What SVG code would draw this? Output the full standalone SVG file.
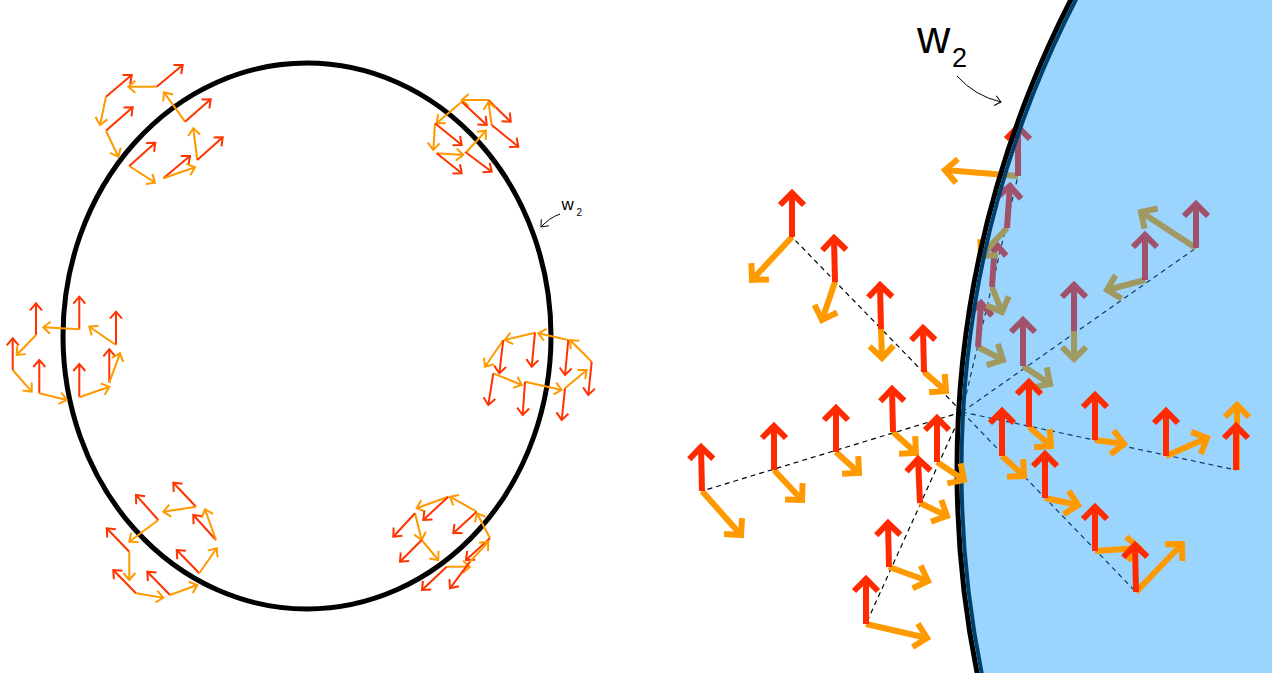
<svg xmlns="http://www.w3.org/2000/svg" width="1281" height="673" viewBox="0 0 1281 673">
<style>
.tr{stroke:#ff3300;stroke-width:2;fill:none;marker-end:url(#mtr)}
.to{stroke:#ff9900;stroke-width:2;fill:none;marker-end:url(#mto)}
.Tr{stroke:#ff2a00;stroke-width:6;fill:none;marker-end:url(#mTr)}
.To{stroke:#ff9900;stroke-width:6;fill:none;marker-end:url(#mTo)}
.Tm{stroke:#a0526c;stroke-width:6;fill:none;marker-end:url(#mTm)}
.Tk{stroke:#a09a62;stroke-width:6;fill:none;marker-end:url(#mTk)}
.dk{stroke:#000;stroke-width:1.2;stroke-dasharray:5 4;fill:none}
.db{stroke:#0d3d66;stroke-width:1.2;stroke-dasharray:5 4;fill:none}
.lbl{font-family:"Liberation Sans",Arial,sans-serif;fill:#000}
</style>
<defs>
<marker id="mtr" markerUnits="userSpaceOnUse" orient="auto" markerWidth="20" markerHeight="20" overflow="visible"><path d="M-7,-6 L0,0 L-7,6" fill="none" stroke="#ff3300" stroke-width="2"/></marker>
<marker id="mto" markerUnits="userSpaceOnUse" orient="auto" markerWidth="20" markerHeight="20" overflow="visible"><path d="M-7,-6 L0,0 L-7,6" fill="none" stroke="#ff9900" stroke-width="2"/></marker>
<marker id="mTr" markerUnits="userSpaceOnUse" orient="auto" markerWidth="40" markerHeight="40" overflow="visible"><path d="M-12,-12 L0,0 L-12,12" fill="none" stroke="#ff2a00" stroke-width="6"/></marker>
<marker id="mTo" markerUnits="userSpaceOnUse" orient="auto" markerWidth="40" markerHeight="40" overflow="visible"><path d="M-12,-12 L0,0 L-12,12" fill="none" stroke="#ff9900" stroke-width="6"/></marker>
<marker id="mTm" markerUnits="userSpaceOnUse" orient="auto" markerWidth="40" markerHeight="40" overflow="visible"><path d="M-12,-12 L0,0 L-12,12" fill="none" stroke="#a0526c" stroke-width="6"/></marker>
<marker id="mTk" markerUnits="userSpaceOnUse" orient="auto" markerWidth="40" markerHeight="40" overflow="visible"><path d="M-12,-12 L0,0 L-12,12" fill="none" stroke="#a09a62" stroke-width="6"/></marker>
<marker id="mthin" markerUnits="userSpaceOnUse" orient="auto" markerWidth="20" markerHeight="20" overflow="visible"><path d="M-6,-5 L0,0 L-6,5" fill="none" stroke="#000" stroke-width="1"/></marker>
<clipPath id="cIn"><circle cx="1984" cy="470" r="1024"/></clipPath>
<clipPath id="cOut"><path clip-rule="evenodd" d="M0,0 H1281 V673 H0 Z M960,470 a1024,1024 0 1,0 2048,0 a1024,1024 0 1,0 -2048,0 Z"/></clipPath>
<clipPath id="cRect"><rect x="0" y="0" width="1272" height="673"/></clipPath>
</defs>
<rect width="1281" height="673" fill="#fff"/>

<!-- LEFT PANEL -->
<g id="ellipse-w2"><ellipse cx="307" cy="336" rx="244" ry="273" fill="none" stroke="#000" stroke-width="5"/></g>

<g id="cluster-top-left">
<line class="tr" x1="106" y1="96.7" x2="131.7" y2="75"/>
<line class="to" x1="156.7" y1="86.7" x2="128.3" y2="86.7"/>
<line class="tr" x1="156.7" y1="86.7" x2="182.7" y2="65"/>
<line class="to" x1="106" y1="96.7" x2="100" y2="125"/>
<line class="tr" x1="106" y1="130.7" x2="132.7" y2="107.3"/>
<line class="to" x1="106" y1="130.7" x2="118.3" y2="156.7"/>
<line class="to" x1="185" y1="121.7" x2="164" y2="92.3"/>
<line class="tr" x1="185" y1="121.7" x2="210.7" y2="99.3"/>
<line class="to" x1="197.3" y1="160" x2="193.3" y2="128.3"/>
<line class="tr" x1="197.3" y1="160" x2="222.7" y2="137.3"/>
<line class="to" x1="129.3" y1="166" x2="155" y2="182.7"/>
<line class="tr" x1="129.3" y1="166" x2="155.3" y2="142.7"/>
<line class="tr" x1="163.3" y1="178.3" x2="190" y2="156"/>
<line class="to" x1="163.3" y1="178.3" x2="195" y2="167.3"/>
</g>

<g id="cluster-top-right">
<line class="to" x1="488.3" y1="100" x2="461.7" y2="100"/>
<line class="tr" x1="488.3" y1="100" x2="510.7" y2="121.7"/>
<line class="tr" x1="461.7" y1="101.7" x2="486.7" y2="125"/>
<line class="to" x1="461.7" y1="101.7" x2="436.7" y2="123.3"/>
<line class="to" x1="491.7" y1="125" x2="488.5" y2="102"/>
<line class="tr" x1="491.7" y1="125" x2="518.3" y2="146.7"/>
<line class="to" x1="435" y1="123.3" x2="433.3" y2="150"/>
<line class="tr" x1="435" y1="123.3" x2="461.7" y2="145"/>
<line class="to" x1="466.7" y1="151.7" x2="486" y2="130.7"/>
<line class="to" x1="436.7" y1="153.3" x2="463.3" y2="155"/>
<line class="tr" x1="436.7" y1="153.3" x2="461.7" y2="173.3"/>
<line class="tr" x1="465" y1="151.7" x2="491.7" y2="171.7"/>
</g>

<g id="cluster-left">
<line class="tr" x1="36" y1="335" x2="36" y2="303.3"/>
<line class="to" x1="36" y1="335" x2="16.7" y2="355"/>
<line class="tr" x1="12.7" y1="370" x2="12.7" y2="338.3"/>
<line class="to" x1="12.7" y1="370" x2="31.7" y2="391.7"/>
<line class="tr" x1="39.3" y1="393.3" x2="39.3" y2="360"/>
<line class="to" x1="39.3" y1="393.3" x2="66.7" y2="400"/>
<line class="tr" x1="79.3" y1="329.3" x2="79.3" y2="296.7"/>
<line class="to" x1="79.3" y1="329.3" x2="43.3" y2="327.3"/>
<line class="tr" x1="116" y1="345" x2="116" y2="311.7"/>
<line class="to" x1="116" y1="345" x2="89.3" y2="326.7"/>
<line class="tr" x1="109.3" y1="382.7" x2="109.3" y2="349.3"/>
<line class="to" x1="109.3" y1="382.7" x2="120" y2="353.3"/>
<line class="tr" x1="79.3" y1="397.3" x2="79.3" y2="364"/>
<line class="to" x1="79.3" y1="397.3" x2="109.3" y2="386.7"/>
</g>

<g id="cluster-right">
<line class="to" x1="535" y1="332.7" x2="505" y2="340"/>
<line class="tr" x1="535" y1="332.7" x2="531.7" y2="366.7"/>
<line class="to" x1="503.3" y1="340" x2="485" y2="366.7"/>
<line class="tr" x1="503.3" y1="340" x2="499.3" y2="373.3"/>
<line class="to" x1="568.3" y1="340" x2="538.3" y2="333.3"/>
<line class="tr" x1="568.3" y1="340" x2="565" y2="375"/>
<line class="to" x1="591.7" y1="361.7" x2="570" y2="340"/>
<line class="tr" x1="591.7" y1="361.7" x2="588.3" y2="395"/>
<line class="to" x1="493.3" y1="373.3" x2="521.7" y2="385"/>
<line class="tr" x1="493.3" y1="373.3" x2="488.3" y2="405"/>
<line class="to" x1="525" y1="381.7" x2="561.7" y2="390"/>
<line class="tr" x1="525" y1="381.7" x2="522.7" y2="415"/>
<line class="to" x1="565" y1="388.3" x2="586.7" y2="370"/>
<line class="tr" x1="565" y1="388.3" x2="561.7" y2="420"/>
</g>

<g id="cluster-bottom-left">
<line class="tr" x1="196" y1="506.7" x2="173.3" y2="482.7"/>
<line class="to" x1="196" y1="506.7" x2="163.3" y2="511.7"/>
<line class="tr" x1="158.3" y1="520" x2="136" y2="495"/>
<line class="to" x1="158.3" y1="520" x2="129.3" y2="541.7"/>
<line class="tr" x1="216" y1="540" x2="193.3" y2="515"/>
<line class="to" x1="216" y1="540" x2="205" y2="509.3"/>
<line class="tr" x1="129.3" y1="551.7" x2="106.7" y2="528.3"/>
<line class="to" x1="129.3" y1="551.7" x2="129.3" y2="580"/>
<line class="tr" x1="199.3" y1="573.3" x2="176.7" y2="550"/>
<line class="to" x1="199.3" y1="573.3" x2="216.7" y2="548.3"/>
<line class="tr" x1="136" y1="593.3" x2="113.3" y2="570"/>
<line class="to" x1="136" y1="593.3" x2="163.3" y2="597.7"/>
<line class="tr" x1="170" y1="595" x2="147.3" y2="571.7"/>
<line class="to" x1="170" y1="595" x2="197.3" y2="585"/>
</g>

<g id="cluster-bottom-right">
<line class="to" x1="448.3" y1="496.7" x2="416.7" y2="508.3"/>
<line class="tr" x1="448.3" y1="496.7" x2="423.3" y2="520"/>
<line class="to" x1="476.7" y1="511.7" x2="450" y2="496.7"/>
<line class="tr" x1="476.7" y1="511.7" x2="453.3" y2="533.3"/>
<line class="to" x1="415" y1="513.3" x2="421.7" y2="540"/>
<line class="tr" x1="415" y1="513.3" x2="393.3" y2="536.7"/>
<line class="to" x1="490" y1="538.3" x2="477" y2="513.3"/>
<line class="tr" x1="490" y1="538.3" x2="466" y2="560"/>
<line class="to" x1="421.7" y1="540" x2="438.3" y2="560"/>
<line class="tr" x1="421.7" y1="540" x2="400" y2="561.7"/>
<line class="to" x1="446.7" y1="566.7" x2="470" y2="566.7"/>
<line class="tr" x1="446.7" y1="566.7" x2="422" y2="590"/>
<line class="to" x1="470" y1="561.7" x2="488.3" y2="541.7"/>
<line class="tr" x1="470" y1="561.7" x2="450" y2="588.3"/>
</g>

<g id="label-left">
<text class="lbl" x="561.5" y="210" font-size="17">w</text>
<text class="lbl" x="576.5" y="216" font-size="10">2</text>
<path d="M560,214 Q549,218 541,227" fill="none" stroke="#000" stroke-width="1" marker-end="url(#mthin)"/>
</g>

<!-- RIGHT PANEL -->
<g id="region-w2" clip-path="url(#cRect)">
<circle cx="1984" cy="470" r="1024" fill="#9bd4fd"/>
</g>

<g id="connectors">
<g clip-path="url(#cOut)">
<line class="dk" x1="962" y1="412" x2="792" y2="237"/>
<line class="dk" x1="962" y1="412" x2="702" y2="491"/>
<line class="dk" x1="962" y1="412" x2="866" y2="624"/>
</g>
<g clip-path="url(#cIn)">
<line class="db" x1="962" y1="412" x2="1236" y2="470"/>
<line class="db" x1="962" y1="412" x2="1136" y2="592"/>
<line class="db" x1="962" y1="412" x2="1196" y2="248"/>
<line class="db" x1="962" y1="412" x2="1018" y2="176"/>
</g>
</g>

<g id="frames-F">
<line class="Tk" x1="1023" y1="366" x2="1050" y2="384"/>
<line class="Tm" x1="1023" y1="366" x2="1023" y2="320"/>
<line class="Tk" x1="1074" y1="331" x2="1074" y2="359"/>
<line class="Tm" x1="1074" y1="331" x2="1074" y2="285"/>
<line class="Tk" x1="1145" y1="280" x2="1107" y2="290"/>
<line class="Tm" x1="1145" y1="280" x2="1145" y2="235"/>
<line class="Tk" x1="1196" y1="248" x2="1141" y2="212"/>
<line class="Tm" x1="1196" y1="248" x2="1196" y2="204"/>
</g>

<g id="frames-G">
<g clip-path="url(#cIn)">
<line class="Tk" x1="978" y1="347" x2="1003" y2="360"/>
<line class="Tm" x1="978" y1="347" x2="981" y2="303"/>
<line class="Tk" x1="992" y1="287" x2="1002" y2="312"/>
<line class="Tm" x1="992" y1="287" x2="995" y2="243"/>
<line class="Tk" x1="1007" y1="228" x2="981" y2="256"/>
<line class="Tm" x1="1007" y1="228" x2="1010" y2="186"/>
<line class="Tk" x1="1018" y1="176" x2="943" y2="170"/>
<line class="Tm" x1="1018" y1="176" x2="1018" y2="127"/>
</g>
<g clip-path="url(#cOut)">
<line class="To" x1="978" y1="347" x2="1003" y2="360"/>
<line class="Tr" x1="978" y1="347" x2="981" y2="303"/>
<line class="To" x1="992" y1="287" x2="1002" y2="312"/>
<line class="Tr" x1="992" y1="287" x2="995" y2="243"/>
<line class="To" x1="1007" y1="228" x2="981" y2="256"/>
<line class="Tr" x1="1007" y1="228" x2="1010" y2="186"/>
<line class="To" x1="1018" y1="176" x2="945" y2="170"/>
<line class="Tr" x1="1018" y1="176" x2="1018" y2="127"/>
</g>
</g>

<g id="boundary-w2">
<circle cx="1984" cy="470" r="1027" fill="none" stroke="#000" stroke-width="5"/>
<circle cx="1984" cy="470" r="1022.5" fill="none" stroke="#00416c" stroke-width="4"/>
</g>

<g id="frames-A">
<line class="To" x1="792" y1="237" x2="752" y2="280"/>
<line class="Tr" x1="792" y1="237" x2="792" y2="193"/>
<line class="To" x1="835" y1="282" x2="822" y2="320"/>
<line class="Tr" x1="835" y1="282" x2="834" y2="238"/>
<line class="To" x1="881" y1="329" x2="882" y2="358"/>
<line class="Tr" x1="881" y1="329" x2="880" y2="285"/>
<line class="To" x1="924" y1="372" x2="946" y2="391"/>
<line class="Tr" x1="924" y1="372" x2="923" y2="328"/>
</g>

<g id="frames-B">
<line class="To" x1="702" y1="491" x2="741" y2="535"/>
<line class="Tr" x1="702" y1="491" x2="701" y2="447"/>
<line class="To" x1="774" y1="470" x2="802" y2="500"/>
<line class="Tr" x1="774" y1="470" x2="774" y2="426"/>
<line class="To" x1="836" y1="452" x2="859" y2="473"/>
<line class="Tr" x1="836" y1="452" x2="836" y2="408"/>
<line class="To" x1="893" y1="432" x2="916" y2="453"/>
<line class="Tr" x1="893" y1="432" x2="892" y2="389"/>
</g>

<g id="frames-C">
<line class="To" x1="937" y1="462" x2="964" y2="480"/>
<line class="Tr" x1="937" y1="462" x2="937" y2="418"/>
<line class="To" x1="920" y1="503" x2="947" y2="516"/>
<line class="Tr" x1="920" y1="503" x2="918" y2="459"/>
<line class="To" x1="889" y1="567" x2="928" y2="581"/>
<line class="Tr" x1="889" y1="567" x2="888" y2="523"/>
<line class="To" x1="866" y1="624" x2="927" y2="638"/>
<line class="Tr" x1="866" y1="624" x2="866" y2="579"/>
</g>

<g id="frames-D">
<line class="To" x1="1029" y1="427" x2="1051" y2="446"/>
<line class="Tr" x1="1029" y1="427" x2="1029" y2="382"/>
<line class="To" x1="1095" y1="440" x2="1124" y2="444"/>
<line class="Tr" x1="1095" y1="440" x2="1095" y2="395"/>
<line class="To" x1="1166" y1="456" x2="1207" y2="438"/>
<line class="Tr" x1="1166" y1="456" x2="1166" y2="411"/>
<line class="To" x1="1237" y1="470" x2="1237" y2="405"/>
<line class="Tr" x1="1236" y1="470" x2="1236" y2="426"/>
</g>

<g id="frames-E">
<line class="To" x1="1002" y1="456" x2="1024" y2="476"/>
<line class="Tr" x1="1002" y1="456" x2="1002" y2="411"/>
<line class="To" x1="1045" y1="498" x2="1078" y2="505"/>
<line class="Tr" x1="1045" y1="498" x2="1045" y2="454"/>
<line class="To" x1="1095" y1="551" x2="1139" y2="548"/>
<line class="Tr" x1="1095" y1="551" x2="1095" y2="507"/>
<line class="To" x1="1136" y1="592" x2="1182" y2="544"/>
<line class="Tr" x1="1136" y1="592" x2="1135" y2="545"/>
</g>

<g id="label-right">
<text class="lbl" x="917" y="53" font-size="46">w</text>
<text class="lbl" x="952" y="67" font-size="27">2</text>
<path d="M957,76 Q975,96 1001,102" fill="none" stroke="#000" stroke-width="1" marker-end="url(#mthin)"/>
</g>
</svg>
